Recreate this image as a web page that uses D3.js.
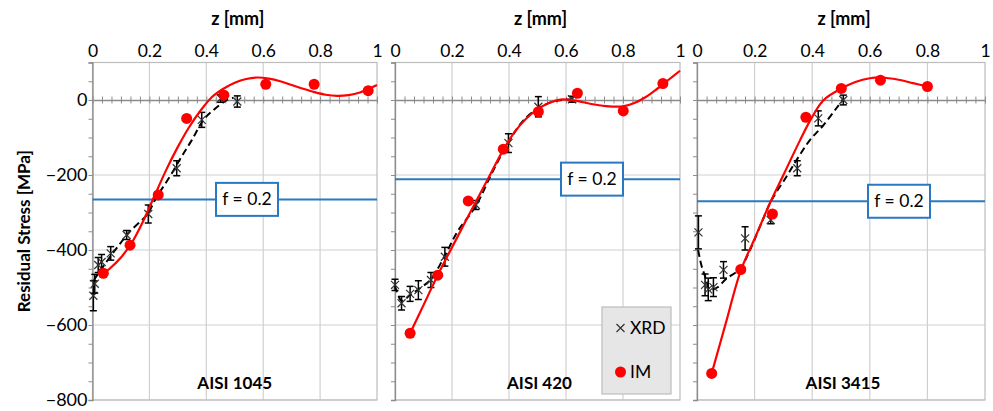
<!DOCTYPE html>
<html>
<head>
<meta charset="utf-8">
<script src="https://cdn.jsdelivr.net/npm/d3@7"></script>
<style>
body { margin: 0; background: #fff; }
text { font-family: Lato, "Liberation Sans", sans-serif; fill: #000; }
</style>
</head>
<body>
<svg id="chart" width="993" height="411"></svg>
<script>
// ---- data ----
var zTicks = [0, 0.2, 0.4, 0.6, 0.8, 1];
var stressTicks = [-800, -600, -400, -200, 0];
var panelNames = ["AISI 1045", "AISI 420", "AISI 3415"];
var fLabel = "f = 0.2";
var fLevels = [-265, -211, -270];

// AISI 1045
var xrdZ1045 = [0.003, 0.008, 0.02, 0.032, 0.064, 0.12, 0.196, 0.296, 0.384, 0.451, 0.509];
var xrdS1045 = [-522, -490, -440, -432, -409, -360, -304, -182, -53, 4, -4];
var xrdE1045 = [40, 25, 20, 20, 18, 12, 24, 20, 20, 10, 15];
var imZ1045 = [0.038, 0.132, 0.231, 0.331, 0.462, 0.609, 0.779, 0.969];
var imS1045 = [-462, -387, -253, -49, 13, 42, 42, 25];
var imFitZ1045 = [0.026, 0.06, 0.1, 0.14, 0.18, 0.22, 0.26, 0.30, 0.34, 0.38, 0.42, 0.46, 0.50, 0.54, 0.58, 0.62, 0.66, 0.70, 0.74, 0.78, 0.82, 0.86, 0.90, 0.94, 0.98, 1.0];
var imFitS1045 = [-470, -450, -420, -378, -320, -252, -185, -125, -72, -28, 8, 30, 46, 56, 60, 57, 50, 40, 30, 21, 14, 11, 13, 20, 33, 40];
var xrdFitZ1045 = [0.005, 0.03, 0.067, 0.10, 0.132, 0.19, 0.226, 0.272, 0.313, 0.349, 0.39, 0.425, 0.472, 0.495];
var xrdFitS1045 = [-480, -452, -413, -380, -350, -307, -258, -204, -151, -107, -53, -27, 0, 6];

// AISI 420
var xrdZ420 = [0.0, 0.023, 0.053, 0.082, 0.126, 0.175, 0.284, 0.398, 0.503, 0.621];
var xrdS420 = [-493, -542, -517, -507, -480, -418, -280, -115, -18, 2];
var xrdE420 = [15, 18, 20, 25, 20, 25, 12, 25, 27, 8];
var imZ420 = [0.053, 0.150, 0.257, 0.380, 0.503, 0.640, 0.801, 0.940];
var imS420 = [-622, -467, -269, -131, -31, 18, -29, 44];
var imFitZ420 = [0.053, 0.10, 0.15, 0.20, 0.25, 0.30, 0.34, 0.38, 0.42, 0.46, 0.50, 0.54, 0.58, 0.62, 0.66, 0.70, 0.75, 0.80, 0.84, 0.88, 0.92, 0.96, 1.0];
var imFitS420 = [-622, -547, -467, -393, -320, -248, -190, -133, -85, -50, -25, -8, 1, 0, -6, -12, -17, -17, -8, 8, 30, 54, 78];
var xrdFitZ420 = [0.0, 0.023, 0.053, 0.082, 0.126, 0.175, 0.22, 0.284, 0.34, 0.40, 0.45, 0.503, 0.56, 0.621];
var xrdFitS420 = [-495, -535, -520, -505, -478, -415, -350, -282, -195, -110, -55, -22, -3, 2];

// AISI 3415
var xrdZ3415 = [0.005, 0.028, 0.039, 0.057, 0.092, 0.167, 0.256, 0.348, 0.421, 0.508];
var xrdS3415 = [-353, -493, -505, -499, -453, -369, -320, -182, -49, 0];
var xrdE3415 = [44, 29, 30, 25, 22, 31, 10, 20, 20, 13];
var imZ3415 = [0.051, 0.152, 0.262, 0.378, 0.501, 0.637, 0.800];
var imS3415 = [-729, -452, -304, -46, 31, 53, 36];
var imFitZ3415 = [0.051, 0.10, 0.152, 0.20, 0.255, 0.30, 0.358, 0.40, 0.44, 0.50, 0.55, 0.60, 0.64, 0.70, 0.75, 0.80];
var imFitS3415 = [-729, -595, -455, -370, -272, -200, -107, -45, 0, 30, 48, 58, 60, 54, 45, 36];
var xrdFitZ3415 = [0.004, 0.015, 0.028, 0.045, 0.07, 0.10, 0.149, 0.184, 0.22, 0.259, 0.311, 0.35, 0.392, 0.438, 0.484, 0.508];
var xrdFitS3415 = [-400, -440, -470, -505, -500, -478, -450, -400, -335, -267, -204, -155, -107, -68, -22, 2];

var xrdAll = [[xrdZ1045, xrdS1045, xrdE1045], [xrdZ420, xrdS420, xrdE420], [xrdZ3415, xrdS3415, xrdE3415]];
var imAll = [[imZ1045, imS1045], [imZ420, imS420], [imZ3415, imS3415]];
var imFitAll = [[imFitZ1045, imFitS1045], [imFitZ420, imFitS420], [imFitZ3415, imFitS3415]];
var xrdFitAll = [[xrdFitZ1045, xrdFitS1045], [xrdFitZ420, xrdFitS420], [xrdFitZ3415, xrdFitS3415]];

// ---- layout ----
var panelBox = [{left: 92.5, right: 377}, {left: 395, right: 680}, {left: 697, right: 985}];
var fBoxCenterX = [247, 592, 899];
var plotTop = 62.5, plotBottom = 400;
var blue = "#2a78c2", red = "#ff0000";

var svg = d3.select("#chart");
var y = d3.scaleLinear().domain([-800, 100]).range([plotBottom, plotTop]);

function zip(a, b) { return a.map(function (d, i) { return [d, b[i]]; }); }

panelBox.forEach(function (pb, p) {
    var x = d3.scaleLinear().domain([0, 1]).range([pb.left, pb.right]);
    var g = svg.append("g");

    // grid
    g.selectAll(".vg").data(zTicks.slice(1, -1)).enter().append("line")
        .attr("x1", function (d) { return x(d); }).attr("x2", function (d) { return x(d); })
        .attr("y1", plotTop).attr("y2", plotBottom)
        .attr("stroke", "#d0d0d0").attr("stroke-width", 1.2);
    g.selectAll(".hg").data(stressTicks.filter(function (d) { return d !== 0; })).enter().append("line")
        .attr("x1", pb.left).attr("x2", pb.right)
        .attr("y1", function (d) { return y(d); }).attr("y2", function (d) { return y(d); })
        .attr("stroke", "#d0d0d0").attr("stroke-width", 1.2);
    // frame
    g.append("rect").attr("x", pb.left).attr("y", plotTop)
        .attr("width", pb.right - pb.left).attr("height", plotBottom - plotTop)
        .attr("fill", "none").attr("stroke", "#bdbdbd").attr("stroke-width", 1.2);

    // left axis with minor ticks
    var yAxis = d3.axisLeft(y).tickValues(d3.range(-800, 101, 50)).tickSize(4).tickFormat("");
    var ya = g.append("g").attr("transform", "translate(" + pb.left + ",0)").call(yAxis);
    ya.select(".domain").attr("stroke", "#8c8c8c").attr("stroke-width", 1.3);
    ya.selectAll(".tick line").attr("stroke", "#8c8c8c");
    if (p === 0) {
        var yLab = d3.axisLeft(y).tickValues(stressTicks).tickSize(0).tickPadding(5);
        var yl = g.append("g").attr("transform", "translate(" + pb.left + ",0)").call(yLab);
        yl.select(".domain").remove();
        yl.selectAll("text").style("font-size", "18px").style("font-family", "Lato, sans-serif");
    }

    // top axis labels
    var xAxis = d3.axisTop(x).tickValues(zTicks).tickSize(0).tickPadding(6)
        .tickFormat(function (d) { return d === 0 || d === 1 ? d : d.toFixed(1); });
    var xa = g.append("g").attr("transform", "translate(0," + plotTop + ")").call(xAxis);
    xa.select(".domain").remove();
    xa.selectAll("text").style("font-size", "17.5px").style("font-family", "Lato, sans-serif");

    // zero line with crossing minor ticks
    var za = g.append("g").attr("transform", "translate(0," + y(0) + ")")
        .call(d3.axisBottom(x).tickValues(d3.range(0, 31).map(function (i) { return i / 30; })).tickSize(0).tickFormat(""));
    za.select(".domain").attr("stroke", "#8c8c8c").attr("stroke-width", 1.3);
    za.selectAll(".tick line").attr("y1", -3.5).attr("y2", 3.5).attr("stroke", "#8c8c8c");

    // titles
    g.append("text").attr("x", (pb.left + pb.right) / 2 + 3).attr("y", 25)
        .attr("text-anchor", "middle").style("font-size", "18px").style("font-weight", "bold").text("z [mm]");
    g.append("text").attr("x", (pb.left + pb.right) / 2 + (p === 0 ? 0 : 2)).attr("y", 389)
        .attr("text-anchor", "middle").style("font-size", "17px").style("font-weight", "bold").text(panelNames[p]);

    // f = 0.2 line
    g.append("line").attr("x1", pb.left).attr("x2", pb.right)
        .attr("y1", y(fLevels[p])).attr("y2", y(fLevels[p]))
        .attr("stroke", blue).attr("stroke-width", 2);

    // XRD dashed trend
    var line = d3.line().x(function (d) { return x(d[0]); }).y(function (d) { return y(d[1]); })
        .curve(d3.curveCatmullRom.alpha(0.5));
    g.append("path").datum(zip(xrdFitAll[p][0], xrdFitAll[p][1]))
        .attr("d", line).attr("fill", "none").attr("stroke", "#000")
        .attr("stroke-width", 2).attr("stroke-dasharray", "7,4");

    // XRD points with error bars
    var xrd = xrdAll[p][0].map(function (z, i) { return {z: z, s: xrdAll[p][1][i], e: xrdAll[p][2][i]}; });
    var xg = g.selectAll(".xrd").data(xrd).enter().append("g")
        .attr("transform", function (d) { return "translate(" + x(d.z) + "," + y(d.s) + ")"; });
    xg.append("line").attr("x1", 0).attr("x2", 0)
        .attr("y1", function (d) { return y(d.s + d.e) - y(d.s); })
        .attr("y2", function (d) { return y(d.s - d.e) - y(d.s); })
        .attr("stroke", "#000").attr("stroke-width", 1.5);
    [1, -1].forEach(function (sgn) {
        xg.append("line").attr("x1", -3.5).attr("x2", 3.5)
            .attr("y1", function (d) { return y(d.s + sgn * d.e) - y(d.s); })
            .attr("y2", function (d) { return y(d.s + sgn * d.e) - y(d.s); })
            .attr("stroke", "#000").attr("stroke-width", 1.5);
    });
    xg.append("path").attr("d", "M-4,-4L4,4M-4,4L4,-4").attr("stroke", "#333").attr("stroke-width", 1.2);

    // IM fit curve and points
    g.append("path").datum(zip(imFitAll[p][0], imFitAll[p][1]))
        .attr("d", line).attr("fill", "none").attr("stroke", red).attr("stroke-width", 2.2);
    g.selectAll(".im").data(zip(imAll[p][0], imAll[p][1])).enter().append("circle")
        .attr("cx", function (d) { return x(d[0]); }).attr("cy", function (d) { return y(d[1]); })
        .attr("r", 5.5).attr("fill", red);

    // f label box
    var fy = y(fLevels[p]);
    g.append("rect").attr("x", fBoxCenterX[p] - 31).attr("y", fy - 16.5)
        .attr("width", 62).attr("height", 33).attr("fill", "#fff")
        .attr("stroke", blue).attr("stroke-width", 2);
    g.append("text").attr("x", fBoxCenterX[p]).attr("y", fy + 6)
        .attr("text-anchor", "middle").style("font-size", "17.5px").text(fLabel);
});

// y axis title
svg.append("text").attr("transform", "translate(30," + ((plotTop + plotBottom) / 2) + ") rotate(-90)")
    .attr("text-anchor", "middle").style("font-size", "17px").style("font-weight", "bold")
    .text("Residual Stress [MPa]");

// legend
var lg = svg.append("g");
lg.append("rect").attr("x", 602).attr("y", 307).attr("width", 69).attr("height", 87)
    .attr("fill", "#e6e6e6").attr("stroke", "#bcbcbc").attr("stroke-width", 1.2);
lg.append("path").attr("d", "M616.5,324L624.5,332M616.5,332L624.5,324").attr("stroke", "#333").attr("stroke-width", 1.2);
lg.append("text").attr("x", 630).attr("y", 334).style("font-size", "17.5px").text("XRD");
lg.append("circle").attr("cx", 620.5).attr("cy", 372).attr("r", 5.5).attr("fill", red);
lg.append("text").attr("x", 630).attr("y", 378).style("font-size", "17.5px").text("IM");
</script>
</body>
</html>
